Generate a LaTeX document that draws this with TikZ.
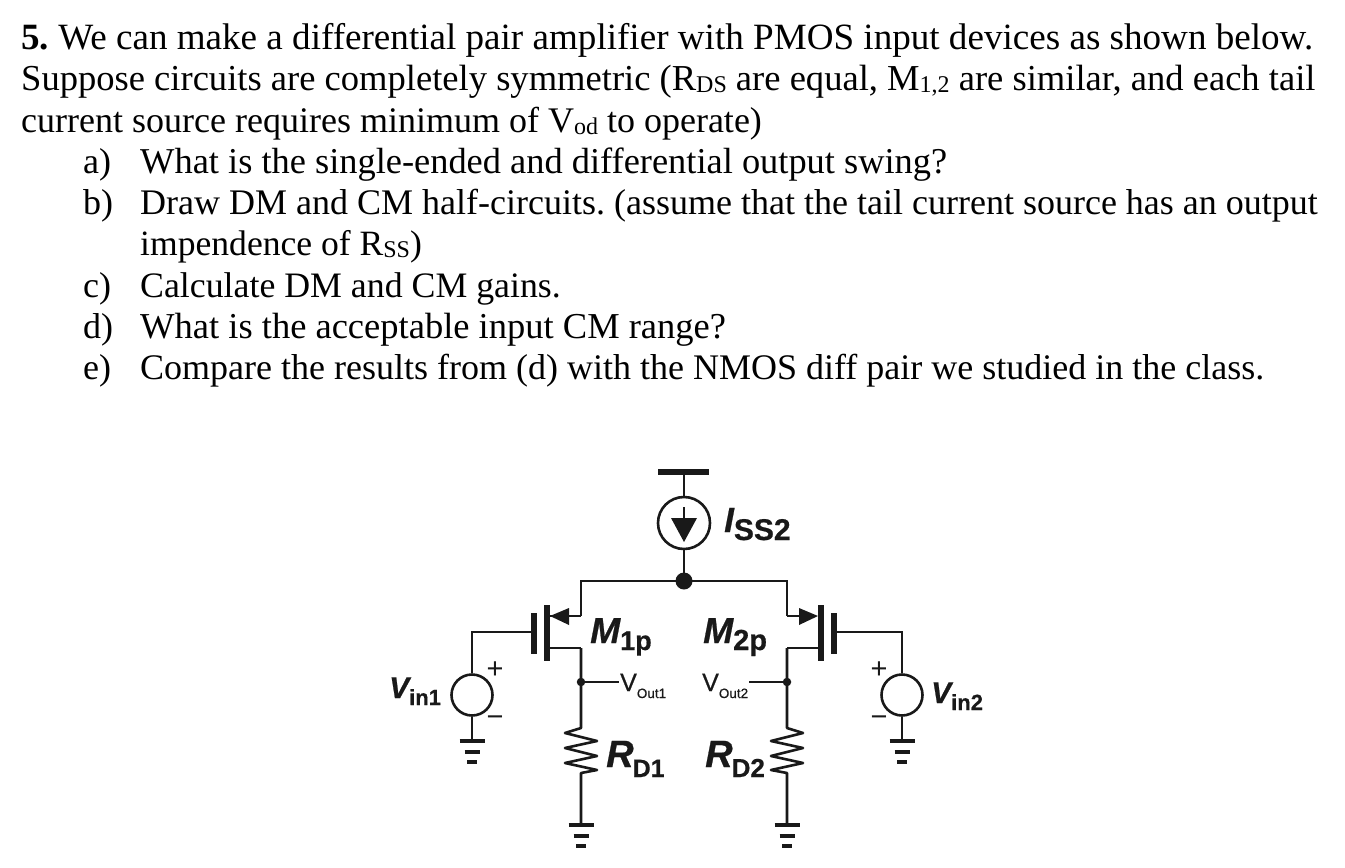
\documentclass[tikz,border=0pt]{standalone}
\usepackage{fontspec}
\setmainfont{Liberation Serif}
\newfontfamily\cirfont[FakeBold=0.6]{Liberation Sans}
\newfontfamily\cirreg{Liberation Sans}
\frenchspacing
\newcommand{\txtsub}[1]{\raisebox{-2.5pt}{\fontsize{24}{24}\selectfont #1}}
% size of main letter, main text, size of subscript, drop of subscript, subscript
\newcommand{\syml}[5]{{\fontsize{#1}{#1}\selectfont\cirfont\bfseries\itshape #2}{\fontsize{#3}{#3}\selectfont\cirfont\bfseries\raisebox{-#4pt}{#5}}}
\newcommand{\outl}[1]{{\fontsize{25}{25}\selectfont\cirfont V}{\fontsize{13.5}{14}\selectfont\cirfont\raisebox{-7pt}{#1}}}
\newcommand{\fs}[1]{\fontsize{#1}{40}\selectfont}
\tikzset{
  x=1pt,y=-1pt,
  wire/.style={line width=2.6pt,black!90,line join=miter},
  thick bar/.style={line width=6.2pt,black!90},
  gnd/.style={line width=4.6pt,black!90},
  ckt/.style={draw=black!90,line width=2.6pt,circle,inner sep=0pt,fill=white},
  para/.style={anchor=base west,inner sep=0pt,text=black},
  lab/.style={inner sep=0pt,text=black!90},
  dotn/.style={circle,fill=black!90,inner sep=0pt}
}
\newcommand{\ground}[2]{%
  \draw[gnd] (#1-12.5,#2) -- (#1+12.5,#2);
  \draw[gnd] (#1-7.5,#2+11) -- (#1+7.5,#2+11);
  \draw[gnd] (#1-5,#2+21) -- (#1+5,#2+21);}
\begin{document}
\begin{tikzpicture}
\useasboundingbox[fill=white] (0,0) rectangle (1345,868);
% text
\node[para,font=\fs{37.1}] (l1) at (21,49) {\textbf{5.} We can make a differential pair amplifier with PMOS input devices as shown below.};
\node[para,font=\fs{36.55}] (l2) at (21,90) {Suppose circuits are completely symmetric (R\txtsub{DS} are equal, M\txtsub{1,2} are similar, and each tail};
\node[para,font=\fs{36}] (l3) at (21,132) {current source requires minimum of V\txtsub{od} to operate)};
\node[para,font=\fs{36}] (l4a) at (83,173) {a)};
\node[para,font=\fs{36.4}] (l4) at (140,173) {What is the single-ended and differential output swing?};
\node[para,font=\fs{36}] (l5a) at (83,214) {b)};
\node[para,font=\fs{36}] (l5) at (140,214) {Draw DM and CM half-circuits. (assume that the tail current source has an output};
\node[para,font=\fs{35.6}] (l6) at (140,255) {impendence of R\txtsub{SS})};
\node[para,font=\fs{36}] (l7a) at (83,297) {c)};
\node[para,font=\fs{35.8}] (l7) at (140,297) {Calculate DM and CM gains.};
\node[para,font=\fs{36}] (l8a) at (83,338) {d)};
\node[para,font=\fs{36.5}] (l8) at (140,338) {What is the acceptable input CM range?};
\node[para,font=\fs{36}] (l9a) at (83,379) {e)};
\node[para,font=\fs{36}] (l9) at (140,379) {Compare the results from (d) with the NMOS diff pair we studied in the class.};
% key points
\coordinate (vdd) at (684,472);
\node[ckt,minimum size=52pt] (iss) at (684,523) {};
\node[dotn,minimum size=17pt] (tail) at (684,581) {};
\coordinate (s1) at (581,616); \coordinate (s1t) at (581,581);
\coordinate (s2) at (787,616); \coordinate (s2t) at (787,581);
\coordinate (d1) at (581,648); \coordinate (d2) at (787,648);
\coordinate (g1) at (534,632); \coordinate (g2) at (834,632);
\node[ckt,minimum size=41pt] (vin1) at (472,695) {};
\node[ckt,minimum size=41pt] (vin2) at (902,695) {};
\coordinate (g1c) at (472,632); \coordinate (g2c) at (902,632);
\node[dotn,minimum size=8.5pt] (o1) at (581,682) {};
\node[dotn,minimum size=8.5pt] (o2) at (787,682) {};
\coordinate (o1e) at (619,682); \coordinate (o2e) at (749,682);
\coordinate (gnd1) at (472,741); \coordinate (gnd2) at (902,741);
\coordinate (gnd3) at (581,825); \coordinate (gnd4) at (787,825);
% supply and current source
\draw[line width=5.5pt,black!90] (658,472) -- (709,472);
\draw[wire] (vdd) -- (iss.north);
\draw[wire] (iss.south) -- (tail.center);
\draw[wire] (684,507) -- (684,520);
\fill[black!90] (671,518) -- (697,518) -- (684,542) -- cycle;
% tail
\draw[wire] (s1) -- (s1t) -- (tail.center) -- (s2t) -- (s2);
% M1
\draw[thick bar] (547,605) -- (547,661);
\draw[thick bar] (534,613) -- (534,654);
\draw[wire] (550,616) -- (s1);
\fill[black!90] (550,616) -- (569,608) -- (569,625) -- cycle;
\draw[wire] (550,648) -- (d1);
\draw[wire] (g1) -- (g1c) -- (vin1.north);
% M2
\draw[thick bar] (821,605) -- (821,661);
\draw[thick bar] (834,613) -- (834,654);
\draw[wire] (s2) -- (800,616);
\fill[black!90] (818,616) -- (799,608) -- (799,625) -- cycle;
\draw[wire] (818,648) -- (d2);
\draw[wire] (g2) -- (g2c) -- (vin2.north);
% drains and resistors
\draw[wire,line join=round] (d1) -- (o1.center) -- (581,728) -- (565,733) -- (597,741) -- (565,748) -- (597,756) -- (565,763) -- (597,770) -- (581,773) -- (gnd3);
\draw[wire,line join=round] (d2) -- (o2.center) -- (787,728) -- (803,733) -- (771,741) -- (803,748) -- (771,756) -- (803,763) -- (771,770) -- (787,773) -- (gnd4);
\draw[wire] (o1.center) -- (o1e);
\draw[wire] (o2.center) -- (o2e);
% grounds
\draw[wire] (vin1.south) -- (gnd1);
\draw[wire] (vin2.south) -- (gnd2);
\ground{472}{741}
\ground{902}{741}
\ground{581}{825}
\ground{787}{825}
% labels
\node[lab,anchor=base west] (liss) at (724,532) {\syml{35}{I}{30}{8}{SS2}};
\node[lab,anchor=base west] (lm1) at (590,643) {\syml{36}{M}{27}{7}{1p}};
\node[lab,anchor=base west] (lm2) at (703,643) {\syml{36}{M}{29}{7}{2p}};
\node[lab,anchor=base west] (lr1) at (606,767) {\syml{38}{R}{25}{10}{\kern-1pt D1}};
\node[lab,anchor=base west] (lr2) at (705,767) {\syml{38}{R}{26}{10}{\kern-1pt D2}};
\node[lab,anchor=base west] (lv1) at (389,698) {\syml{30}{V}{22}{7}{in1}};
\node[lab,anchor=base west] (lv2) at (931,703) {\syml{30}{V}{22}{7}{in2}};
\node[lab,anchor=base west] (lo1) at (620,691) {\outl{Out1}};
\node[lab,anchor=base west] (lo2) at (702,691) {\outl{Out2}};
\node[lab,font=\fontsize{29}{29}\selectfont\cirreg] (p1) at (495,670) {+};
\node[lab,font=\fontsize{29}{29}\selectfont\cirreg] (m1) at (495,721) {−};
\node[lab,font=\fontsize{29}{29}\selectfont\cirreg] (p2) at (879,670) {+};
\node[lab,font=\fontsize{29}{29}\selectfont\cirreg] (m2) at (879,721) {−};
\end{tikzpicture}
\end{document}
